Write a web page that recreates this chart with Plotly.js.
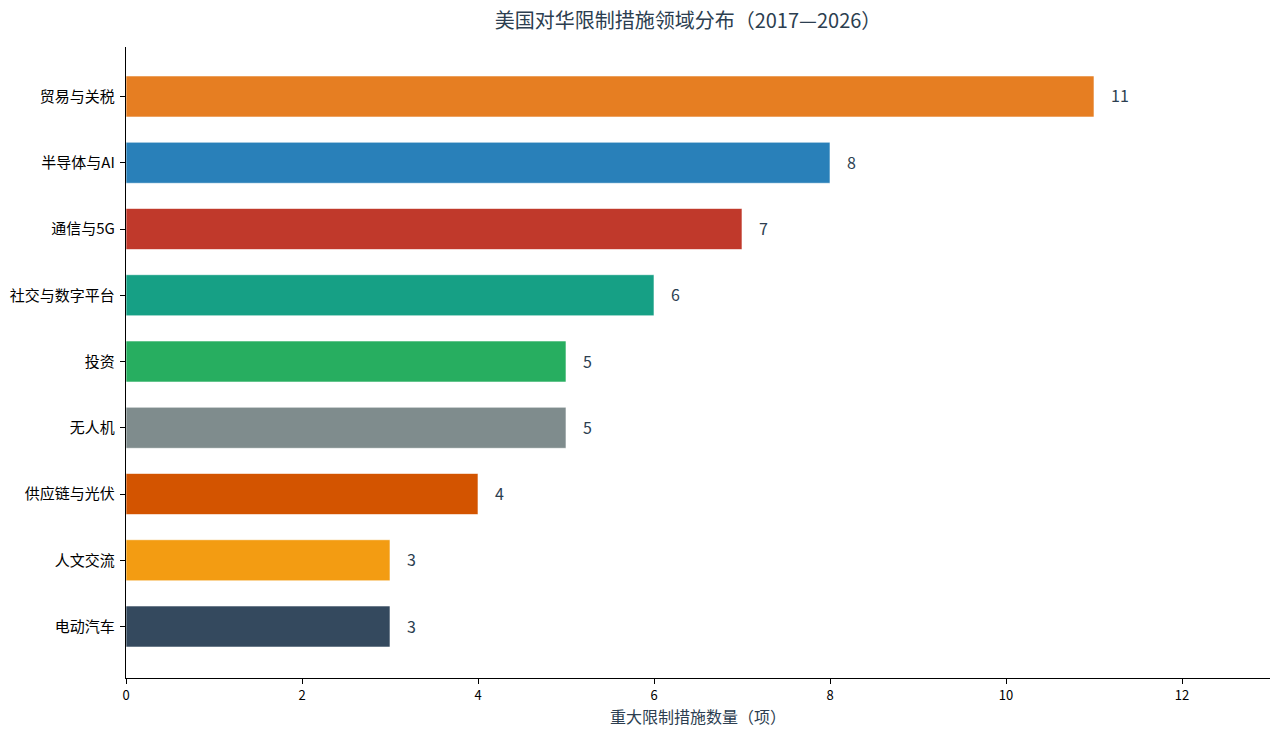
<!DOCTYPE html>
<html>
<head>
<meta charset="utf-8">
<script src="https://cdn.plot.ly/plotly-3.0.1.min.js"></script>
<style>html,body{margin:0;padding:0;background:#fff;}#chart{width:1280px;height:734px;}</style>
</head>
<body>
<div id="chart"></div>
<script>
const categories = ["贸易与关税", "半导体与AI", "通信与5G", "社交与数字平台", "投资", "无人机", "供应链与光伏", "人文交流", "电动汽车"];
const counts = [11, 8, 7, 6, 5, 5, 4, 3, 3];
const barColors = ["#e67e22", "#2980b9", "#c0392b", "#16a085", "#27ae60", "#7f8c8d", "#d35400", "#f39c12", "#34495e"];
const xTicks = [0, 2, 4, 6, 8, 10, 12];

const FONT = '"Noto Sans CJK SC", "Noto Sans", sans-serif';

const trace = {
  type: 'bar',
  orientation: 'h',
  x: counts,
  y: categories,
  width: 0.62,
  marker: {color: barColors, line: {color: 'rgba(255,255,255,0.6)', width: 1}},
  hoverinfo: 'x+y'
};

const annotations = counts.map((v, i) => ({
  x: v, y: categories[i], xref: 'x', yref: 'y',
  text: String(v), showarrow: false, xanchor: 'left', xshift: 15, yshift: 1,
  font: {family: FONT, size: 16, color: '#2c3e50'}
}));

const layout = {
  width: 1280, height: 734,
  margin: {l: 126, r: 10, t: 47, b: 56},
  paper_bgcolor: '#ffffff', plot_bgcolor: '#ffffff',
  font: {family: FONT, color: '#000'},
  title: {text: '美国对华限制措施领域分布（2017—2026）', x: 0.5375, xref: 'container', xanchor: 'center',
          y: 0.972, yref: 'container', yanchor: 'middle',
          font: {family: FONT, size: 20, color: '#2c3e50'}},
  xaxis: {
    range: [0, 13], tickvals: xTicks, ticktext: xTicks.map(String),
    showgrid: false, zeroline: false, showline: true, linecolor: '#000', linewidth: 1.2,
    ticks: 'outside', ticklen: 5, tickcolor: '#000', tickwidth: 1,
    tickfont: {family: FONT, size: 13, color: '#000'},
    title: {text: '重大限制措施数量（项）', font: {family: FONT, size: 16, color: '#2c3e50'}, standoff: 9}
  },
  yaxis: {
    type: 'category', categoryorder: 'array', categoryarray: categories,
    range: [8.777, -0.747],
    showgrid: false, zeroline: false, showline: true, linecolor: '#000', linewidth: 1.2,
    ticks: 'outside', ticklen: 5, tickcolor: '#000', tickwidth: 1,
    ticklabelstandoff: 2,
    tickfont: {family: FONT, size: 15, color: '#000'}
  },
  annotations: annotations,
  showlegend: false
};

Plotly.newPlot('chart', [trace], layout, {displayModeBar: false, staticPlot: true});
</script>
</body>
</html>
